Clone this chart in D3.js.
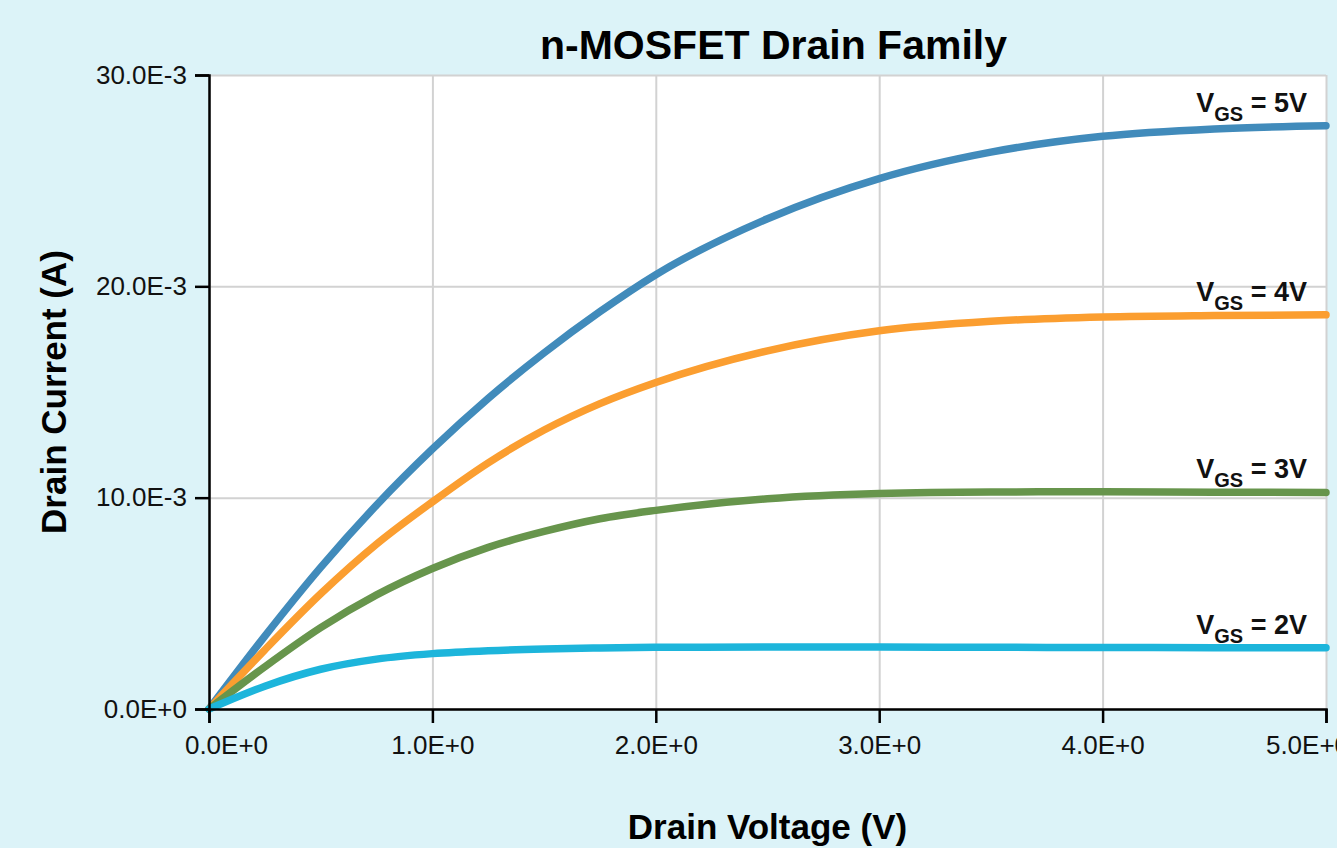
<!DOCTYPE html>
<html>
<head>
<meta charset="utf-8">
<script src="https://cdn.jsdelivr.net/npm/d3@7"></script>
<style>
	html, body { margin: 0; padding: 0; background: #dcf3f8; }
	svg { display: block; font-family: "Liberation Sans", Arial, sans-serif; }
	.grid line { stroke: #d2d2d2; stroke-width: 2; }
	.grid .domain { display: none; }
	.axis .domain, .axis line { stroke: #000; stroke-width: 2.5; }
	.axis text { font-size: 26px; fill: #111; }
</style>
</head>
<body>
<svg width="1337" height="848"></svg>
<script>
'use strict';
// drain voltage samples (V) and currents (mA)
const vds = [0, 0.25, 0.5, 0.75, 1.0, 1.25, 1.5, 1.75, 2.0, 2.5, 3.0, 3.5, 4.0, 4.5, 5.0]
const id5 = [0, 3.45, 6.7, 9.65, 12.3, 14.7, 16.85, 18.8, 20.55, 23.2, 25.1, 26.35, 27.1, 27.45, 27.6]
const id4 = [0, 2.8, 5.45, 7.8, 9.8, 11.65, 13.2, 14.45, 15.45, 16.95, 17.9, 18.35, 18.55, 18.62, 18.65]
const id3 = [0, 2.0, 3.85, 5.4, 6.65, 7.65, 8.4, 9.0, 9.4, 9.95, 10.2, 10.27, 10.28, 10.26, 10.25]
const id2 = [0, 1.08, 1.88, 2.36, 2.62, 2.76, 2.84, 2.89, 2.92, 2.93, 2.93, 2.92, 2.91, 2.9, 2.9]

const seriesNames = ["5V", "4V", "3V", "2V"]
const seriesColors = ["#418bbb", "#fb9e30", "#67954c", "#1db5db"]

const xTicks = [0, 1, 2, 3, 4, 5]
const xTickLabels = ["0.0E+0", "1.0E+0", "2.0E+0", "3.0E+0", "4.0E+0", "5.0E+0"]
const yTicks = [0, 10, 20, 30]
const yTickLabels = ["0.0E+0", "10.0E-3", "20.0E-3", "30.0E-3"]

let svg = d3.select("svg")
let margin = {top: 75, right: 11, bottom: 139, left: 209}
let dWidth = +svg.attr("width") - margin.left - margin.right,
	dHeight = +svg.attr("height") - margin.top - margin.bottom

let x = d3.scaleLinear().domain([0, 5]).range([0, dWidth])
let y = d3.scaleLinear().domain([0, 30]).range([dHeight, 0])

let g = svg.append("g").attr("transform", `translate(${margin.left},${margin.top})`)

// plot background
g.append("rect").attr("width", dWidth).attr("height", dHeight).attr("fill", "#fff")

// gridlines
g.append("g").attr("class", "grid")
	.attr("transform", `translate(0,${dHeight})`)
	.call(d3.axisBottom(x).tickValues(xTicks).tickSize(-dHeight).tickFormat(""))
g.append("g").attr("class", "grid")
	.call(d3.axisLeft(y).tickValues(yTicks).tickSize(-dWidth).tickFormat(""))

// curves
let line = d3.line()
	.x((d, i) => x(vds[i]))
	.y(d => y(d))
	.curve(d3.curveMonotoneX)

let allSeries = [id5, id4, id3, id2]
allSeries.forEach((s, k) => {
	g.append("path")
		.datum(s)
		.attr("fill", "none")
		.attr("stroke", seriesColors[k])
		.attr("stroke-width", 7.5)
		.attr("stroke-linecap", "round")
		.attr("stroke-linejoin", "round")
		.attr("d", line)
})

// axes
let gx = g.append("g").attr("class", "axis")
	.attr("transform", `translate(0,${dHeight})`)
	.call(d3.axisBottom(x).tickValues(xTicks).tickSize(14).tickPadding(13)
		.tickFormat((d, i) => xTickLabels[i]))
// end labels are nudged inwards
gx.selectAll(".tick text")
	.attr("dx", (d, i) => i === 0 ? 17 : (i === xTicks.length - 1 ? -19 : 0))
g.append("g").attr("class", "axis")
	.call(d3.axisLeft(y).tickValues(yTicks).tickSize(14).tickPadding(8)
		.tickFormat((d, i) => yTickLabels[i]))

// series labels at right end
allSeries.forEach((s, k) => {
	let t = g.append("text")
		.attr("x", dWidth - 19)
		.attr("y", y(s[s.length - 1]) - 14)
		.attr("text-anchor", "end")
		.attr("font-size", 27)
		.attr("font-weight", "bold")
		.attr("fill", "#111")
	t.append("tspan").text("V")
	t.append("tspan").attr("font-size", 20).attr("dy", 9).text("GS")
	t.append("tspan").attr("dy", -9).text(" = " + seriesNames[k])
})

// titles
svg.append("text")
	.attr("x", margin.left + dWidth / 2 + 6).attr("y", 59)
	.attr("text-anchor", "middle")
	.attr("font-size", 41).attr("font-weight", "bold")
	.text("n-MOSFET Drain Family")

svg.append("text")
	.attr("x", margin.left + dWidth / 2).attr("y", 839)
	.attr("text-anchor", "middle")
	.attr("font-size", 35).attr("font-weight", "bold")
	.text("Drain Voltage (V)")

svg.append("text")
	.attr("transform", `translate(66,${margin.top + dHeight / 2}) rotate(-90)`)
	.attr("text-anchor", "middle")
	.attr("font-size", 35).attr("font-weight", "bold")
	.text("Drain Current (A)")
</script>
</body>
</html>
